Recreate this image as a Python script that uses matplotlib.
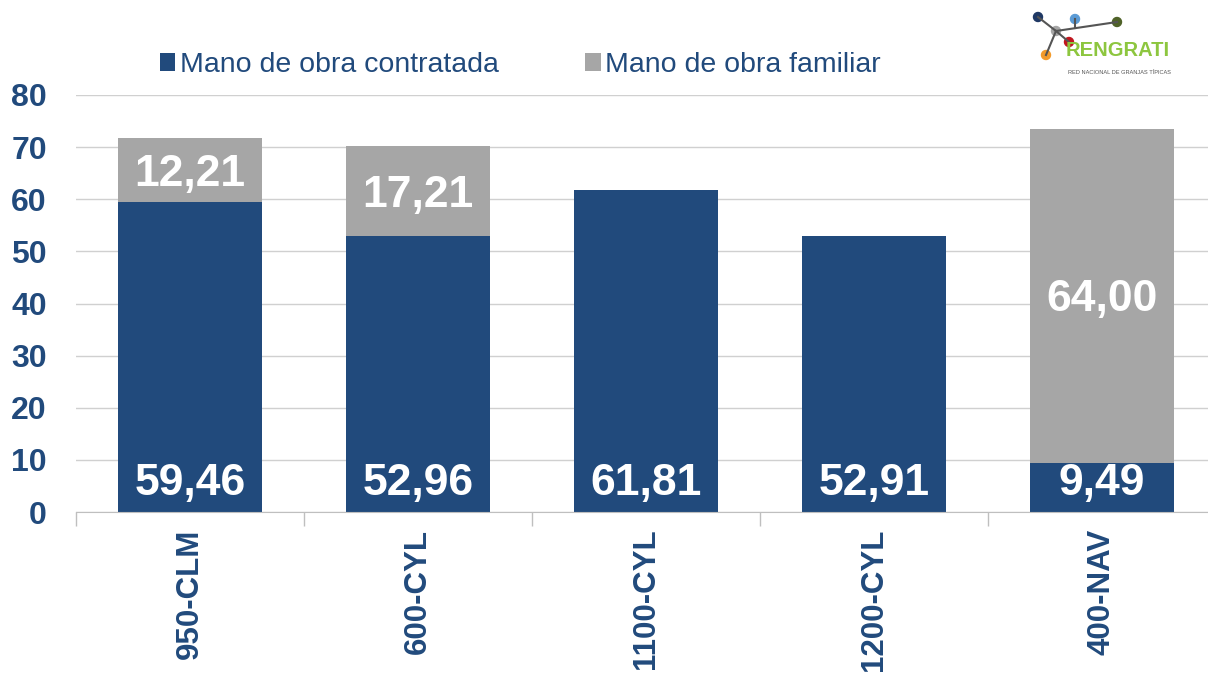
import matplotlib
matplotlib.use("Agg")
import matplotlib.pyplot as plt
from matplotlib.lines import Line2D
from matplotlib.patches import Circle

categories = ["950-CLM", "600-CYL", "1100-CYL", "1200-CYL", "400-NAV"]
contratada = [59.46, 52.96, 61.81, 52.91, 9.49]
familiar = [12.21, 17.21, 0.0, 0.0, 64.00]
series_names = ["Mano de obra contratada", "Mano de obra familiar"]
yticks = [0, 10, 20, 30, 40, 50, 60, 70, 80]

BLUE = "#214A7C"
GREY = "#A6A6A6"
FONT = "Liberation Sans"

W, H = 1208, 678
fig = plt.figure(figsize=(W / 100, H / 100), dpi=100)
ax = fig.add_axes([76 / W, (H - 512) / H, 1140 / W, 417 / H])

x = list(range(len(categories)))
b1 = ax.bar(x, contratada, width=0.63, color=BLUE, zorder=3, label=series_names[0])
b2 = ax.bar(x, familiar, width=0.63, bottom=contratada, color=GREY, zorder=3,
            label=series_names[1])

for i in x:
    ax.text(i, 5.5, f"{contratada[i]:.2f}".replace(".", ","), ha="center", va="center",
            color="white", fontsize=32, fontweight="bold", family=FONT, zorder=4)
    if familiar[i] > 0:
        ax.text(i, contratada[i] + familiar[i] / 2 - 0.8,
                f"{familiar[i]:.2f}".replace(".", ","), ha="center", va="center",
                color="white", fontsize=32, fontweight="bold", family=FONT, zorder=4)

ax.set_xlim(-0.5, len(categories) - 0.5)
ax.set_ylim(0, 80)
ax.set_yticks(yticks)
ax.set_yticklabels([str(v) for v in yticks], color=BLUE, fontsize=23,
                   fontweight="bold", family=FONT)
ax.set_xticks(x)
ax.set_xticklabels(categories, rotation=90, color=BLUE, fontsize=22.5,
                   fontweight="bold", family=FONT)
ax.tick_params(axis="x", length=0, pad=12)
ax.tick_params(axis="y", length=0, pad=21)
ax.set_xticks([i - 0.5 for i in range(len(categories) + 1)], minor=True)
ax.tick_params(axis="x", which="minor", length=10, color="#BFBFBF", width=1)
ax.grid(axis="y", color="#D0D0D0", linewidth=1, zorder=0)
for s in ["top", "right", "left"]:
    ax.spines[s].set_visible(False)
ax.spines["bottom"].set_color("#BFBFBF")
ax.spines["bottom"].set_zorder(5)

leg = fig.legend(handles=[b1, b2], loc="center left", bbox_to_anchor=(134 / W, 1 - 65 / H),
                 ncol=2, frameon=False, handlelength=0.55, handleheight=0.55,
                 handletextpad=0.15, columnspacing=3.05,
                 prop={"family": FONT, "size": 20.5})
for t in leg.get_texts():
    t.set_color(BLUE)

# logo
def fx(px):
    return px / W

def fy(py):
    return 1 - py / H

for (x0, y0), (x1, y1) in [((1056, 31), (1038, 17)), ((1056, 31), (1046, 55)),
                            ((1056, 31), (1069, 42)), ((1056, 31), (1117, 22)),
                            ((1075, 19), (1075, 28))]:
    fig.add_artist(Line2D([fx(x0), fx(x1)], [fy(y0), fy(y1)], color="#555555", lw=1.5))
for (cx, cy), c in [((1038, 17), "#1F3864"), ((1075, 19), "#5B9BD5"),
                    ((1117, 22), "#4F6228"), ((1056, 31), "#A6A6A6"),
                    ((1069, 42), "#C0161E"), ((1046, 55), "#F39A2B")]:
    fig.add_artist(Circle((cx, H - cy), 4.5, color=c, transform=None))
fig.text(fx(1118), fy(51), "RENGRATI", ha="center", va="center", color="#8DC63F",
         fontsize=14.5, fontweight="bold", family=FONT)
fig.text(fx(1119), fy(73), "RED NACIONAL DE GRANJAS TÍPICAS", ha="center", va="center",
         color="#555555", fontsize=4.1, family=FONT)

fig.savefig("out.png", dpi=100)
